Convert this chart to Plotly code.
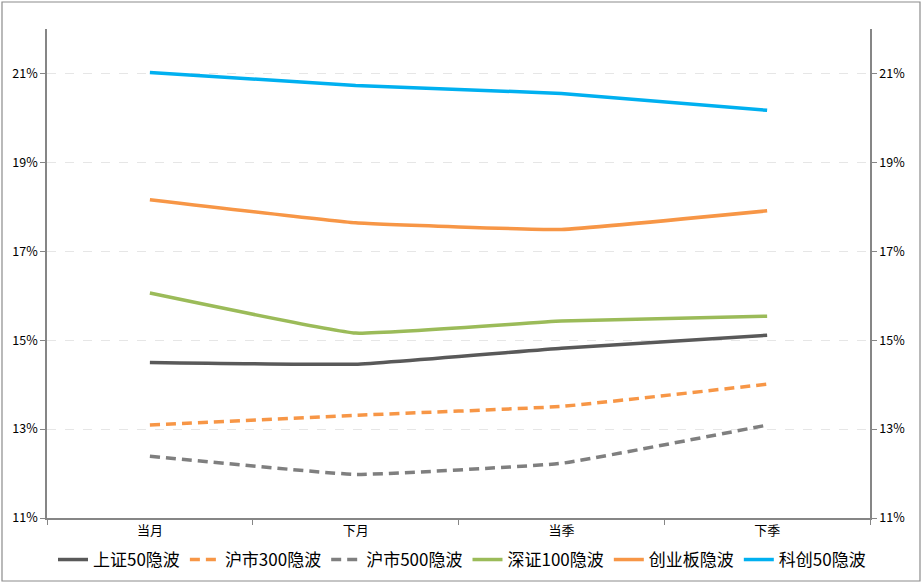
import plotly.graph_objects as go

# terms (x categories)
terms = ["当月", "下月", "当季", "下季"]

# implied vol per index, in %
sz50 = [14.50, 14.46, 14.82, 15.11]
hs300 = [13.09, 13.31, 13.51, 14.01]
hs500 = [12.39, 11.98, 12.23, 13.09]
sz100 = [16.06, 15.16, 15.43, 15.54]
cyb = [18.16, 17.64, 17.49, 17.91]
kc50 = [21.02, 20.73, 20.55, 20.17]

y_ticks = [11, 13, 15, 17, 19, 21]
y_tick_labels = ["11%", "13%", "15%", "17%", "19%", "21%"]

series = [
    ("上证50隐波", sz50, "#595959", "solid"),
    ("沪市300隐波", hs300, "#F79646", "10px,6px"),
    ("沪市500隐波", hs500, "#7F7F7F", "10px,6px"),
    ("深证100隐波", sz100, "#9BBB59", "solid"),
    ("创业板隐波", cyb, "#F79646", "solid"),
    ("科创50隐波", kc50, "#00B0F0", "solid"),
]

fig = go.Figure()
for name, vals, color, dash in series:
    fig.add_trace(go.Scatter(
        x=terms, y=vals, name=name, mode="lines",
        line=dict(color=color, width=3.5, dash=dash, shape="spline", smoothing=0.3),
    ))

# invisible trace so the right axis gets drawn
fig.add_trace(go.Scatter(x=terms, y=sz50, yaxis="y2", mode="lines",
                         line=dict(width=0), showlegend=False, hoverinfo="skip"))

W, H = 924, 585
L, R, T, B = 47, 54, 29, 67
pw, ph = W - L - R, H - T - B

axis_common = dict(
    range=[11, 22], tickvals=y_ticks, ticktext=y_tick_labels,
    showline=True, linecolor="#868686", linewidth=1.5,
    ticks="outside", ticklen=5, tickcolor="#868686",
    tickfont=dict(size=12.5, color="#000000", family="Noto Sans CJK SC"),
    zeroline=False,
)

fig.update_layout(
    width=W, height=H,
    margin=dict(l=L, r=R, t=T, b=B, autoexpand=False),
    paper_bgcolor="white", plot_bgcolor="white",
    font=dict(family="Noto Sans CJK SC", color="#000000"),
    xaxis=dict(
        range=[-0.5, 3.5],
        showline=True, linecolor="#868686", linewidth=1.5,
        ticks="outside", tickson="boundaries", ticklen=5, tickcolor="#868686",
        tickfont=dict(size=13), showgrid=False,
    ),
    yaxis=dict(**axis_common, showgrid=True, gridcolor="#e6e6e6", griddash="dash", gridwidth=1),
    yaxis2=dict(**axis_common, overlaying="y", side="right", showgrid=False),
    legend=dict(
        orientation="h", xref="container", yref="container",
        x=0.5, xanchor="center", y=0.012, yanchor="bottom",
        font=dict(size=17), itemwidth=30, tracegroupgap=0,
    ),
    showlegend=True,
)

# chart border
def px_x(p):
    return (p - L) / pw

def px_y(p):
    return (H - B - p) / ph

fig.add_shape(type="rect", xref="paper", yref="paper",
              x0=px_x(2), x1=px_x(920), y0=px_y(581), y1=px_y(2),
              line=dict(color="#8c8c8c", width=1.2), layer="below")

fig.write_html("out.html", config={"displayModeBar": False},
               post_script="document.body.style.margin='0';")
